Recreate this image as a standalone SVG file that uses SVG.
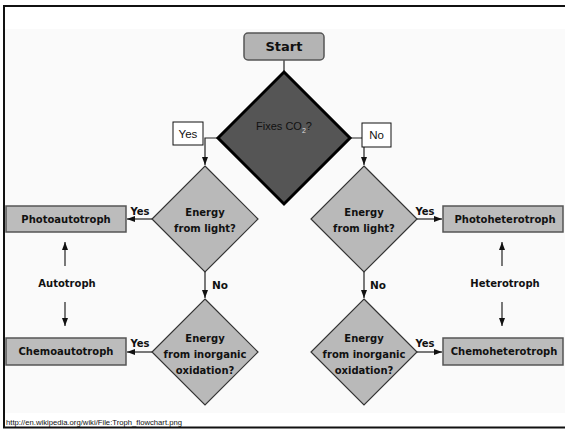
<svg xmlns="http://www.w3.org/2000/svg" width="565" height="429" viewBox="0 0 565 429">
<defs>
<style>
.bold{font-family:"DejaVu Sans",sans-serif;font-weight:bold;fill:#111;}
.norm{font-family:"Liberation Sans",Arial,sans-serif;fill:#111;}
.dia{fill:#b9b9b9;stroke:#333;stroke-width:1.2;}
.box{fill:#bcbcbc;stroke:#555;stroke-width:1.5;}
.lbl{fill:#fff;stroke:#111;stroke-width:1;}
.con{fill:none;stroke:#222;stroke-width:1.2;}
</style>
<marker id="ah" viewBox="0 0 8 6" refX="8" refY="3" markerWidth="8" markerHeight="6" markerUnits="userSpaceOnUse" orient="auto">
<path d="M0,0 L8,3 L0,6 z" fill="#111"/>
</marker>
</defs>
<rect x="0" y="0" width="565" height="429" fill="#fff"/>
<rect x="4" y="29" width="561" height="384" fill="#fafafa"/>
<path d="M4,6 H565 M4,5 V428 M3,427.5 H565" fill="none" stroke="#111" stroke-width="2"/>

<g id="connectors">
<path class="con" d="M284,60 V72"/>
<path class="con" d="M218,138 H205 V165" marker-end="url(#ah)"/>
<path class="con" d="M347,138 H364 V165" marker-end="url(#ah)"/>
<path class="con" d="M152,219 H127" marker-end="url(#ah)"/>
<path class="con" d="M205,272 V298" marker-end="url(#ah)"/>
<path class="con" d="M152,352 H127" marker-end="url(#ah)"/>
<path class="con" d="M417,219 H442" marker-end="url(#ah)"/>
<path class="con" d="M364,272 V298" marker-end="url(#ah)"/>
<path class="con" d="M417,352 H442" marker-end="url(#ah)"/>
<path class="con" d="M65,266 V242" marker-end="url(#ah)"/>
<path class="con" d="M65,302 V326" marker-end="url(#ah)"/>
<path class="con" d="M502,266 V242" marker-end="url(#ah)"/>
<path class="con" d="M502,302 V326" marker-end="url(#ah)"/>
<text class="bold" x="140" y="215" font-size="10" text-anchor="middle">Yes</text>
<text class="bold" x="140" y="347" font-size="10" text-anchor="middle">Yes</text>
<text class="bold" x="425" y="215" font-size="10" text-anchor="middle">Yes</text>
<text class="bold" x="425" y="347" font-size="10" text-anchor="middle">Yes</text>
<text class="bold" x="212" y="289" font-size="10.5">No</text>
<text class="bold" x="370" y="289" font-size="10.5">No</text>
</g>

<g id="yes-label">
<rect class="lbl" x="173" y="122" width="30" height="23"/>
<text class="norm" x="188" y="138" font-size="11.5" text-anchor="middle">Yes</text>
</g>
<g id="no-label">
<rect class="lbl" x="362" y="123" width="29" height="24"/>
<text class="norm" x="376.5" y="139" font-size="11.5" text-anchor="middle">No</text>
</g>

<g id="start">
<rect x="244" y="33" width="80" height="27" rx="4" fill="#b4b4b4" stroke="#555" stroke-width="1.5"/>
<text class="bold" x="284" y="51" font-size="13" text-anchor="middle">Start</text>
</g>

<g id="fixes-co2">
<polygon points="284,72 350,138 284,204 218,138" fill="#555" stroke="#000" stroke-width="3"/>
<text class="norm" x="284" y="130" font-size="11" text-anchor="middle" fill="#1a1a1a">Fixes CO<tspan font-size="7" dy="3" fill="#ddd">2</tspan><tspan dy="-3">?</tspan></text>
</g>

<g id="light-left">
<polygon class="dia" points="205,166 258,219 205,272 152,219"/>
<text class="bold" x="205" y="216" font-size="10" text-anchor="middle">Energy</text>
<text class="bold" x="205" y="232" font-size="10" text-anchor="middle">from light?</text>
</g>
<g id="light-right">
<polygon class="dia" points="364,166 417,219 364,272 311,219"/>
<text class="bold" x="364" y="216" font-size="10" text-anchor="middle">Energy</text>
<text class="bold" x="364" y="232" font-size="10" text-anchor="middle">from light?</text>
</g>
<g id="inorganic-left">
<polygon class="dia" points="205,299 258,352 205,405 152,352"/>
<text class="bold" x="205" y="342" font-size="10" text-anchor="middle">Energy</text>
<text class="bold" x="205" y="358" font-size="10" text-anchor="middle">from inorganic</text>
<text class="bold" x="205" y="374" font-size="10" text-anchor="middle">oxidation?</text>
</g>
<g id="inorganic-right">
<polygon class="dia" points="364,299 417,352 364,405 311,352"/>
<text class="bold" x="364" y="342" font-size="10" text-anchor="middle">Energy</text>
<text class="bold" x="364" y="358" font-size="10" text-anchor="middle">from inorganic</text>
<text class="bold" x="364" y="374" font-size="10" text-anchor="middle">oxidation?</text>
</g>

<g id="photoautotroph">
<rect class="box" x="6" y="206" width="120" height="26"/>
<text class="bold" x="66" y="223" font-size="10" text-anchor="middle">Photoautotroph</text>
</g>
<g id="chemoautotroph">
<rect class="box" x="6" y="338" width="120" height="27"/>
<text class="bold" x="66" y="355" font-size="10" text-anchor="middle">Chemoautotroph</text>
</g>
<g id="photoheterotroph">
<rect class="box" x="443" y="206" width="120" height="26"/>
<text class="bold" x="505" y="223" font-size="10" text-anchor="middle">Photoheterotroph</text>
</g>
<g id="chemoheterotroph">
<rect class="box" x="443" y="338" width="120" height="27"/>
<text class="bold" x="504" y="355" font-size="10" text-anchor="middle">Chemoheterotroph</text>
</g>

<g id="autotroph">
<text class="bold" x="67" y="287" font-size="10" text-anchor="middle">Autotroph</text>
</g>
<g id="heterotroph">
<text class="bold" x="505" y="287" font-size="10" text-anchor="middle">Heterotroph</text>
</g>

<text class="norm" x="6" y="425" font-size="7" textLength="176" lengthAdjust="spacingAndGlyphs">http://en.wikipedia.org/wiki/File:Troph_flowchart.png</text>
</svg>
